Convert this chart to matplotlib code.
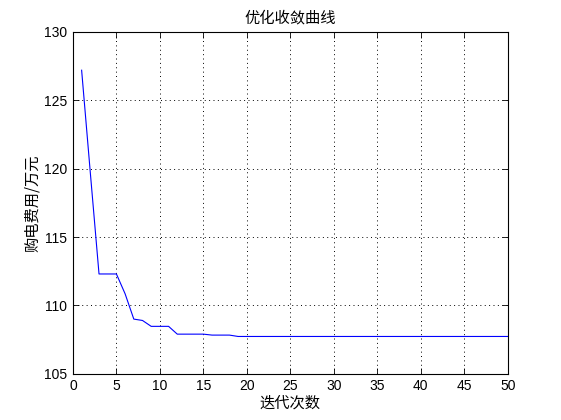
import matplotlib
matplotlib.use('Agg')
import matplotlib.pyplot as plt

# iteration number and best cost
iters = list(range(1, 51))
cost = [127.2, 119.7, 112.3, 112.3, 112.3, 110.85, 109.0, 108.9, 108.47, 108.47,
        108.47, 107.9, 107.9, 107.9, 107.9, 107.83, 107.83, 107.83, 107.73, 107.73,
        107.73, 107.73, 107.73, 107.73, 107.73, 107.73, 107.73, 107.73, 107.73, 107.73,
        107.73, 107.73, 107.73, 107.73, 107.73, 107.73, 107.73, 107.73, 107.73, 107.73,
        107.73, 107.73, 107.73, 107.73, 107.73, 107.73, 107.73, 107.73, 107.73, 107.73]

title = '优化收敛曲线'
xlabel = '迭代次数'
ylabel = '购电费用/万元'
xticks = [0, 5, 10, 15, 20, 25, 30, 35, 40, 45, 50]
yticks = [105, 110, 115, 120, 125, 130]

cjk = ['Noto Sans CJK SC', 'DejaVu Sans']

fig = plt.figure(figsize=(5.61, 4.2), dpi=100)
ax = fig.add_axes([0.13, 0.11, 0.775, 0.814])

ax.plot(iters, cost, color='#0000ff', linewidth=0.8)

ax.set_xlim(0, 50)
ax.set_ylim(105, 130)
ax.set_xticks(xticks)
ax.set_yticks(yticks)
ax.tick_params(direction='in', length=4, width=0.6, top=True, right=True,
               labelsize=10, pad=4)
for lab in ax.get_xticklabels() + ax.get_yticklabels():
    lab.set_family('Liberation Sans')

ax.grid(True, color='black', linestyle=(0, (1, 3.5)), linewidth=0.7)
for s in ax.spines.values():
    s.set_linewidth(0.8)

ax.set_title(title, family=cjk, fontsize=11, pad=7)
ax.set_xlabel(xlabel, family=cjk, fontsize=11, labelpad=1)
ax.set_ylabel(ylabel, family=cjk, fontsize=11, labelpad=2)

fig.savefig('out.png', dpi=100, facecolor='white')
